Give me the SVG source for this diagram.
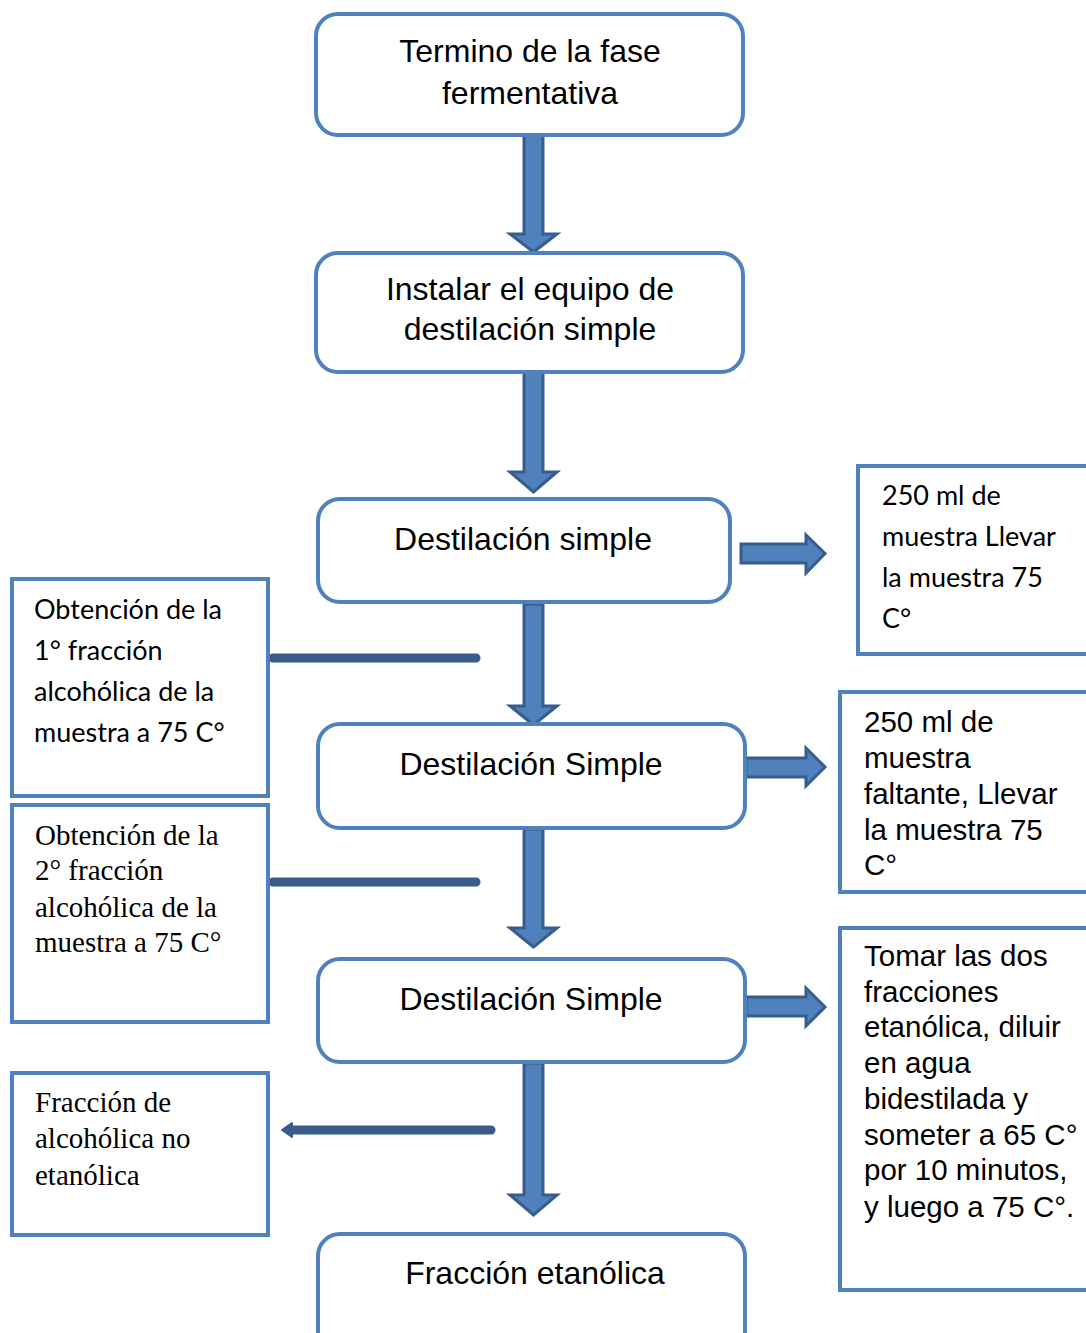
<svg xmlns="http://www.w3.org/2000/svg" width="1086" height="1333" viewBox="0 0 1086 1333">
<style>
.box{fill:#fff;stroke:#4f81bd;stroke-width:4}
.side{fill:#fff;stroke:#4f81bd;stroke-width:4}
.arr{fill:#4f81bd;stroke:#385d8a;stroke-width:3;stroke-linejoin:miter}
.ln{stroke:#385d8a;stroke-width:9;stroke-linecap:round;fill:none}
.t{font-family:"Liberation Sans",Arial,sans-serif;font-size:32px;fill:#000;text-anchor:middle}
.c{font-family:Lato,"Open Sans",sans-serif;font-size:27px;fill:#000}
.a{font-family:"Liberation Sans",Arial,sans-serif;font-size:29.5px;fill:#000}
.s{font-family:"Liberation Serif","Times New Roman",serif;font-size:29px;fill:#000}
</style>
<rect width="1086" height="1333" fill="#fff"/>
<g id="connectors">
<path class="arr" d="M524,135 H543 V234 H557 L533.5,252 L510,234 H524 Z"/>
<path class="arr" d="M524,372 H543 V472 H557 L533.5,492 L510,472 H524 Z"/>
<path class="arr" d="M524,604 H543 V706 H557 L533.5,725 L510,706 H524 Z"/>
<path class="arr" d="M524,829 H543 V928 H557 L533.5,947 L510,928 H524 Z"/>
<path class="arr" d="M524,1063 H543 V1195 H557 L533.5,1215 L510,1195 H524 Z"/>
<path class="arr" d="M741,544 H806 V535 L825,553.5 L806,573 V563 H741 Z"/>
<path class="arr" d="M746,758 H806 V748 L825,767 L806,786 V777 H746 Z"/>
<path class="arr" d="M746,997 H806 V988 L825,1007 L806,1026 V1016 H746 Z"/>
<path class="ln" d="M273,658 H476"/>
<path class="ln" d="M273,882 H476"/>
<path class="ln" d="M290,1130 H491"/>
<path d="M282,1130 L292,1123 V1137 Z" fill="#385d8a" stroke="#385d8a" stroke-width="2" stroke-linejoin="round"/>
</g>
<g id="n1"><rect class="box" x="316" y="14" width="427" height="121" rx="22"/>
<text class="t" x="530" y="62">Termino de la fase</text><text class="t" x="530" y="104">fermentativa</text></g>
<g id="n2"><rect class="box" x="316" y="253" width="427" height="119" rx="22"/>
<text class="t" x="530" y="300">Instalar el equipo de</text><text class="t" x="530" y="340">destilación simple</text></g>
<g id="n3"><rect class="box" x="318" y="499" width="412" height="103" rx="22"/>
<text class="t" x="523" y="550">Destilación simple</text></g>
<g id="n4"><rect class="box" x="318" y="724" width="427" height="104" rx="22"/>
<text class="t" x="531" y="775">Destilación Simple</text></g>
<g id="n5"><rect class="box" x="318" y="959" width="427" height="103" rx="22"/>
<text class="t" x="531" y="1010">Destilación Simple</text></g>
<g id="n6"><rect class="box" x="318" y="1234" width="427" height="120" rx="22"/>
<text class="t" x="535" y="1284">Fracción etanólica</text></g>
<g id="s1"><rect class="side" x="858" y="466" width="236" height="188"/>
<text class="c" x="882" y="505">250 ml de</text><text class="c" x="882" y="546">muestra Llevar</text><text class="c" x="882" y="587">la muestra 75</text><text class="c" x="882" y="628">C°</text></g>
<g id="s2"><rect class="side" x="840" y="692" width="254" height="200"/>
<text class="a" x="864" y="732">250 ml de</text><text class="a" x="864" y="768">muestra</text><text class="a" x="864" y="804">faltante, Llevar</text><text class="a" x="864" y="840">la muestra 75</text><text class="a" x="864" y="875">C°</text></g>
<g id="s3"><rect class="side" x="840" y="928" width="254" height="362"/>
<text class="a" x="864" y="966">Tomar las dos</text><text class="a" x="864" y="1002">fracciones</text><text class="a" x="864" y="1037">etanólica, diluir</text><text class="a" x="864" y="1073">en agua</text><text class="a" x="864" y="1109">bidestilada y</text><text class="a" x="864" y="1145">someter a 65 C°</text><text class="a" x="864" y="1180">por 10 minutos,</text><text class="a" x="864" y="1217">y luego a 75 C°.</text></g>
<g id="l1"><rect class="side" x="12" y="579" width="256" height="217"/>
<text class="c" x="34" y="619">Obtención de la</text><text class="c" x="34" y="660">1° fracción</text><text class="c" x="34" y="701">alcohólica de la</text><text class="c" x="34" y="742">muestra a 75 C°</text></g>
<g id="l2"><rect class="side" x="12" y="805" width="256" height="217"/>
<text class="s" x="35" y="845">Obtención de la</text><text class="s" x="35" y="880">2° fracción</text><text class="s" x="35" y="917">alcohólica de la</text><text class="s" x="35" y="952">muestra a 75 C°</text></g>
<g id="l3"><rect class="side" x="12" y="1073" width="256" height="162"/>
<text class="s" x="35" y="1112">Fracción de</text><text class="s" x="35" y="1148">alcohólica no</text><text class="s" x="35" y="1185">etanólica</text></g>
</svg>
